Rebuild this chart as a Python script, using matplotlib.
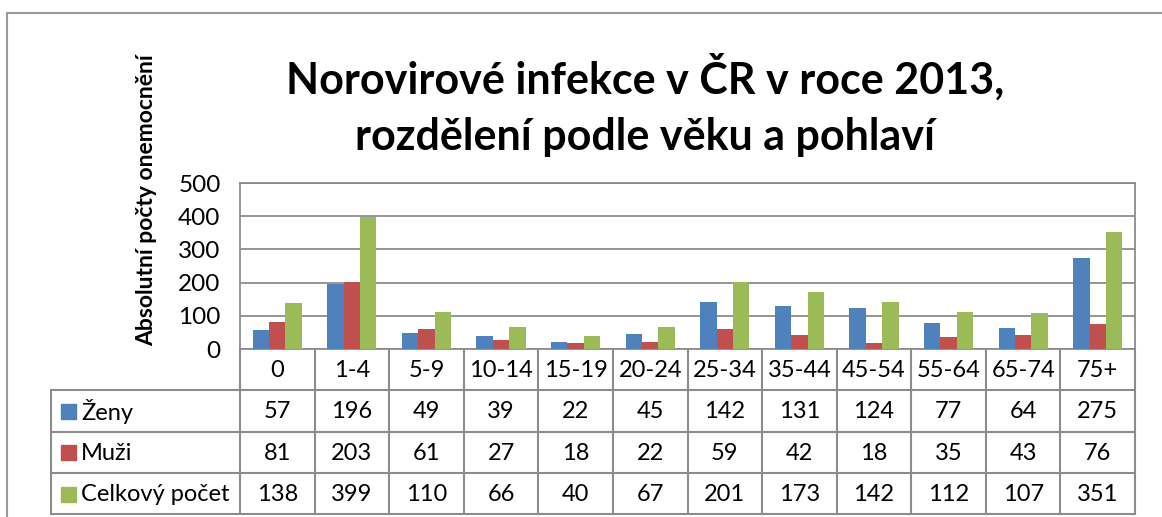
import matplotlib
matplotlib.use("Agg")
import matplotlib.pyplot as plt
import numpy as np

plt.rcParams['font.family'] = ['Lato', 'DejaVu Sans']

categories = ["0", "1-4", "5-9", "10-14", "15-19", "20-24", "25-34", "35-44", "45-54", "55-64", "65-74", "75+"]
zeny = [57, 196, 49, 39, 22, 45, 142, 131, 124, 77, 64, 275]
muzi = [81, 203, 61, 27, 18, 22, 59, 42, 18, 35, 43, 76]
celkem = [138, 399, 110, 66, 40, 67, 201, 173, 142, 112, 107, 351]
series_names = ["Ženy", "Muži", "Celkový počet"]
colors = ["#4F81BD", "#C0504D", "#9BBB59"]

W, H = 1162, 517
fig = plt.figure(figsize=(W / 100, H / 100), dpi=100)

# pixel layout
px_left, px_right = 240, 1135
px_top, px_bot = 183, 349
row_h = 41.3
tab_left = 51
grid_col = "#8c8c8c"

ax = fig.add_axes([px_left / W, 1 - px_bot / H, (px_right - px_left) / W, (px_bot - px_top) / H])
x = np.arange(len(categories))
bw = 0.22
for i, vals in enumerate([zeny, muzi, celkem]):
    ax.bar(x + (i - 1) * bw, vals, bw, color=colors[i], zorder=3)
ax.set_xlim(-0.5, len(categories) - 0.5)
ax.set_ylim(0, 500)
ax.set_yticks(range(0, 501, 100))
ax.set_xticks([])
ax.tick_params(axis='y', length=0, labelsize=17.5, pad=14)
ax.grid(axis='y', color=grid_col, lw=1.3, zorder=0)
for s in ax.spines.values():
    s.set_color(grid_col)
    s.set_linewidth(1.3)

# overlay in pixel coords for table and frame
ov2 = fig.add_axes([0, 0, 1, 1])
ov2.set_xlim(0, W)
ov2.set_ylim(H, 0)
ov2.axis('off')
ov2.patch.set_alpha(0)

# outer frame
ov2.plot([6.5, 6.5, W + 5], [H + 5, 12.5, 12.5], color="#999999", lw=1.5)

ov2.text(147, 200, "Absolutní počty onemocnění", rotation=90, ha='center', va='center',
         fontsize=16.5, fontweight='bold')

fig.text(645 / W, 1 - 77 / H, "Norovirové infekce v ČR v roce 2013,", ha='center', va='center',
         fontsize=31, fontweight='bold')
fig.text(645 / W, 1 - 137 / H, "rozdělení podle věku a pohlaví", ha='center', va='center',
         fontsize=31, fontweight='bold')

colw = (px_right - px_left) / len(categories)
tab_bot = px_bot + 4 * row_h
# vertical lines
for j in range(len(categories) + 1):
    xx = px_left + j * colw
    ov2.plot([xx, xx], [px_bot, tab_bot], color=grid_col, lw=1.5)
ov2.plot([tab_left, tab_left], [px_bot + row_h, tab_bot], color=grid_col, lw=1.5)
# horizontal lines
for r in range(1, 5):
    yy = px_bot + r * row_h
    ov2.plot([tab_left, px_right], [yy, yy], color=grid_col, lw=1.5)

for j, c in enumerate(categories):
    ov2.text(px_left + (j + 0.5) * colw, px_bot + 0.5 * row_h + 1, c, ha='center', va='center', fontsize=17)
for r, vals in enumerate([zeny, muzi, celkem]):
    yc = px_bot + (r + 1.5) * row_h + 1
    for j, v in enumerate(vals):
        ov2.text(px_left + (j + 0.5) * colw, yc, str(v), ha='center', va='center', fontsize=17)
    ov2.add_patch(plt.Rectangle((61, yc - 8), 15, 15, color=colors[r]))
    ov2.text(81, yc, series_names[r], ha='left', va='center', fontsize=17)

fig.savefig("out.png", dpi=100)
